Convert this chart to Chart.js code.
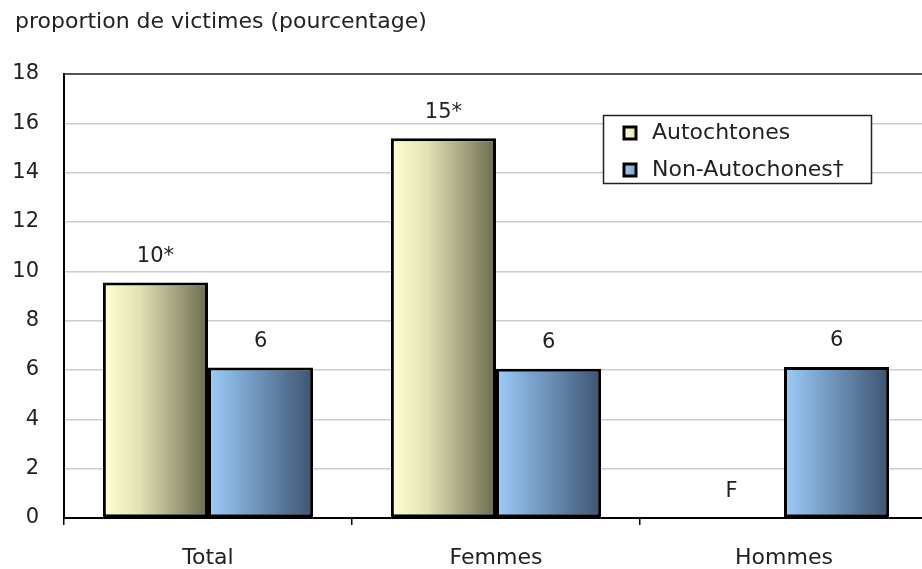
<!DOCTYPE html>
<html>
<head>
<meta charset="utf-8">
<script src="https://cdn.jsdelivr.net/npm/chart.js@4.4.1/dist/chart.umd.min.js"></script>
<style>
  html, body { margin: 0; padding: 0; background: #fff; overflow: hidden; }
  #wrap { width: 922px; height: 569px; overflow: hidden; position: relative; }
  #box { width: 930px; height: 569px; position: absolute; left: 0; top: 0; }
</style>
</head>
<body>
<div id="wrap"><div id="box"><canvas id="c"></canvas></div></div>
<script>
const categories = ['Total', 'Femmes', 'Hommes'];
const seriesNames = ['Autochtones', 'Non-Autochones†'];
const autochtones = [9.55, 15.4, null];
const nonAutochtones = [6.1, 6.05, 6.12];
const autochtonesLabels = ['10*', '15*', 'F'];
const nonAutochtonesLabels = ['6', '6', '6'];
const yTitle = 'proportion de victimes (pourcentage)';

const FONT = '"DejaVu Sans", Verdana, sans-serif';
const gradStops = [
  ['#ffffd2', '#e2e2b4', '#6c6c50'],
  ['#9dcdfa', '#7aa3cc', '#3e5470']
];

const gradientPlugin = {
  id: 'grad',
  beforeDatasetsDraw(chart) {
    const ctx = chart.ctx;
    chart.data.datasets.forEach((ds, di) => {
      const meta = chart.getDatasetMeta(di);
      meta.data.forEach(el => {
        const w = el.width;
        const x0 = el.x - w / 2, x1 = el.x + w / 2;
        const g = ctx.createLinearGradient(x0, 0, x1, 0);
        const s = gradStops[di];
        g.addColorStop(0, s[0]);
        g.addColorStop(0.35, s[1]);
        g.addColorStop(1, s[2]);
        const o = Object.create(el.options);
        o.backgroundColor = g;
        el.options = o;
      });
    });
  }
};

const labelPlugin = {
  id: 'labels',
  afterDatasetsDraw(chart) {
    const ctx = chart.ctx;
    const yScale = chart.scales.y;
    const lbls = [autochtonesLabels, nonAutochtonesLabels];
    ctx.save();
    ctx.font = '21px ' + FONT;
    ctx.fillStyle = '#222';
    ctx.textAlign = 'center';
    ctx.textBaseline = 'middle';
    chart.data.datasets.forEach((ds, di) => {
      const meta = chart.getDatasetMeta(di);
      meta.data.forEach((el, i) => {
        const v = ds.data[i];
        const y = (v === null || v === undefined) ? yScale.getPixelForValue(0) - 26 : el.y - 26;
        ctx.fillText(lbls[di][i], el.x, y);
      });
    });
    ctx.restore();
  },
  afterDraw(chart) {
    const ctx = chart.ctx;
    ctx.save();
    ctx.font = '22px ' + FONT;
    ctx.fillStyle = '#222';
    ctx.textAlign = 'left';
    ctx.textBaseline = 'middle';
    ctx.fillText(yTitle, 15, 22);
    const lx = 603.5, ly = 115.5, lw = 268, lh = 68;
    ctx.fillStyle = '#fff';
    ctx.fillRect(lx, ly, lw, lh);
    ctx.strokeStyle = '#222';
    ctx.lineWidth = 1.5;
    ctx.strokeRect(lx, ly, lw, lh);
    seriesNames.forEach((name, i) => {
      const cy = 133 + i * 37;
      const g = ctx.createLinearGradient(623, 0, 637, 0);
      g.addColorStop(0, gradStops[i][0]);
      g.addColorStop(1, gradStops[i][1]);
      ctx.fillStyle = g;
      ctx.fillRect(624, cy - 6, 12, 12);
      ctx.strokeStyle = '#000';
      ctx.lineWidth = 3;
      ctx.strokeRect(624, cy - 6, 12, 12);
      ctx.fillStyle = '#222';
      ctx.fillText(name, 652, cy);
    });
    ctx.restore();
  }
};

new Chart(document.getElementById('c'), {
  type: 'bar',
  data: {
    labels: categories,
    datasets: [
      { label: seriesNames[0], data: autochtones, backgroundColor: () => '#ffffd2', borderColor: '#000', borderWidth: 3, borderSkipped: false },
      { label: seriesNames[1], data: nonAutochtones, backgroundColor: () => '#9dcdfa', borderColor: '#000', borderWidth: 3, borderSkipped: false }
    ]
  },
  options: {
    responsive: true,
    maintainAspectRatio: false,
    animation: false,
    events: [],
    layout: { padding: { top: 74, right: 2, left: 0, bottom: 0 } },
    categoryPercentage: 0.73,
    barPercentage: 1.0,
    plugins: { legend: { display: false }, tooltip: { enabled: false }, title: { display: false } },
    scales: {
      x: {
        afterFit(s) { s.height = 51; },
        grid: { display: true, offset: true, drawOnChartArea: false, drawTicks: true, tickLength: 7, color: '#000', lineWidth: 1.5 },
        border: { display: true, color: '#000', width: 2 },
        ticks: { font: { family: FONT, size: 22 }, color: '#222', padding: 20 }
      },
      y: {
        min: 0, max: 18,
        afterFit(s) { s.width = 64; },
        grid: {
          drawTicks: false,
          color: ctx => ctx.tick && ctx.tick.value === 18 ? '#555' : '#cccccc',
          lineWidth: ctx => ctx.tick && ctx.tick.value === 18 ? 2 : 1.5
        },
        border: { display: true, color: '#000', width: 2 },
        ticks: { stepSize: 2, font: { family: FONT, size: 21 }, color: '#222', padding: 25 }
      }
    }
  },
  plugins: [gradientPlugin, labelPlugin]
});
</script>
</body>
</html>
